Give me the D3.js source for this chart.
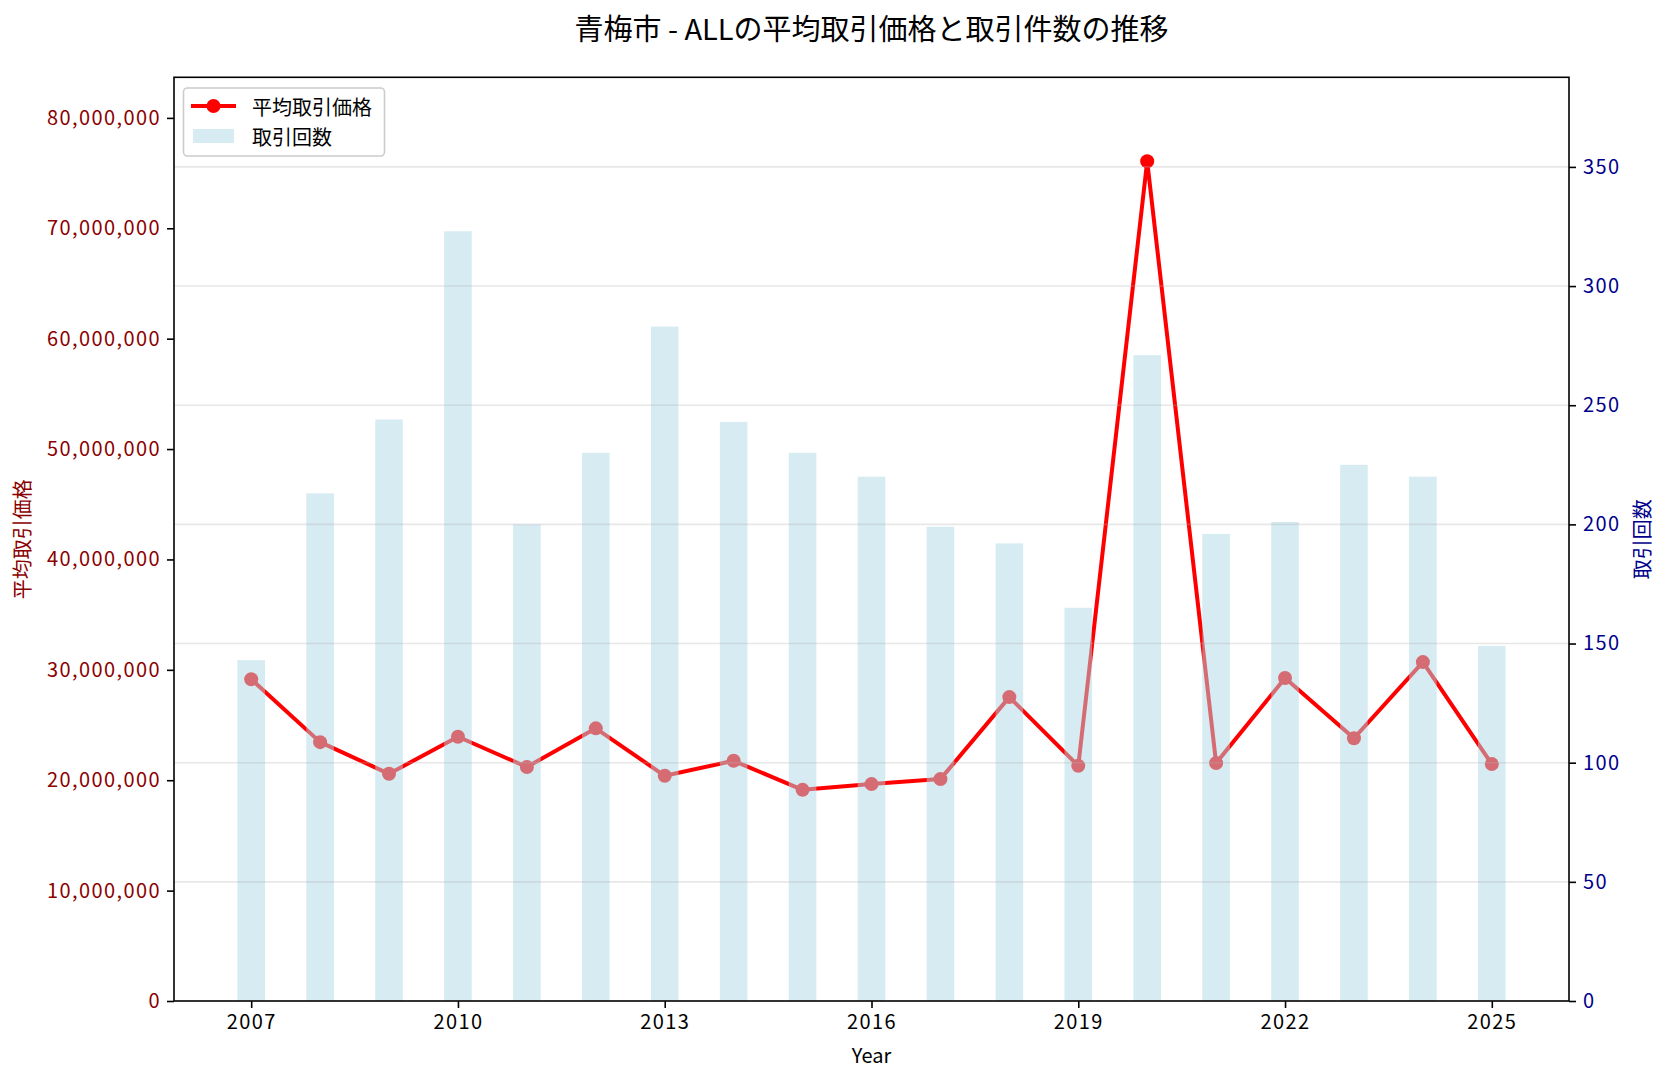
<!DOCTYPE html>
<html>
<head>
<meta charset="utf-8">
<title>青梅市 - ALLの平均取引価格と取引件数の推移</title>
<script src="https://cdn.jsdelivr.net/npm/d3@7"></script>
<style>
  body { margin: 0; background: #fff; }
  text { font-family: "Noto Sans CJK JP", "Noto Sans", sans-serif; }
</style>
</head>
<body>
<script>
// data
var years = [2007, 2008, 2009, 2010, 2011, 2012, 2013, 2014, 2015, 2016, 2017, 2018, 2019, 2020, 2021, 2022, 2023, 2024, 2025];
var avgPrice = [29150000, 23450000, 20580000, 23940000, 21200000, 24700000, 20400000, 21760000, 19130000, 19650000, 20100000, 27530000, 21300000, 76070000, 21550000, 29260000, 23800000, 30700000, 21460000];
var counts = [143, 213, 244, 323, 200, 230, 283, 243, 230, 220, 199, 192, 165, 271, 196, 201, 225, 220, 149];
var xTicks = [2007, 2010, 2013, 2016, 2019, 2022, 2025];
var priceTicks = [0, 10000000, 20000000, 30000000, 40000000, 50000000, 60000000, 70000000, 80000000];
var countTicks = [0, 50, 100, 150, 200, 250, 300, 350];

var W = 1666, H = 1080;
var pL = 174, pR = 1569, pT = 77.3, pB = 1001;
var barW = 0.4;

var svg = d3.select("body").append("svg")
    .attr("width", W)
    .attr("height", H);

var span = d3.max(years) - d3.min(years) + barW;
var x = d3.scaleLinear()
    .domain([d3.min(years) - barW / 2 - span * 0.05, d3.max(years) + barW / 2 + span * 0.05])
    .range([pL, pR]);
var yL = d3.scaleLinear().domain([0, d3.max(avgPrice) * 1.1]).range([pB, pT]);
var yR = d3.scaleLinear().domain([0, d3.max(counts) * 1.2]).range([pB, pT]);

// price line (first axes, drawn below bars)
var line = d3.line()
    .x(function(d, i) { return x(years[i]); })
    .y(function(d) { return yL(d); });

svg.append("path")
    .datum(avgPrice)
    .attr("d", line)
    .attr("fill", "none")
    .attr("stroke", "red")
    .attr("stroke-width", 4)
    .attr("stroke-linejoin", "round");

svg.selectAll("circle.pt")
    .data(avgPrice)
    .enter()
  .append("circle")
    .attr("class", "pt")
    .attr("cx", function(d, i) { return x(years[i]); })
    .attr("cy", function(d) { return yL(d); })
    .attr("r", 7)
    .attr("fill", "red");

// bars (twin axes, on top)
svg.selectAll("rect.bar")
    .data(counts)
    .enter()
  .append("rect")
    .attr("class", "bar")
    .attr("x", function(d, i) { return x(years[i] - barW / 2); })
    .attr("width", function(d, i) { return x(years[i] + barW / 2) - x(years[i] - barW / 2); })
    .attr("y", function(d) { return yR(d); })
    .attr("height", function(d) { return pB - yR(d); })
    .attr("fill", "lightblue")
    .attr("fill-opacity", 0.5);

// grid from the right axis
svg.append("g")
    .selectAll("line")
    .data(countTicks.slice(1))
    .enter()
  .append("line")
    .attr("x1", pL)
    .attr("x2", pR)
    .attr("y1", function(d) { return yR(d); })
    .attr("y2", function(d) { return yR(d); })
    .attr("stroke", "#b0b0b0")
    .attr("stroke-opacity", 0.3)
    .attr("stroke-width", 1.6);

// axes
function styleAxis(g, color) {
  g.select(".domain").remove();
  g.selectAll(".tick line").attr("stroke", "#000").attr("stroke-width", 1.6);
  g.selectAll(".tick text")
      .attr("fill", color)
      .style("font-size", "20px")
      .style("letter-spacing", "1.4px")
      .style("font-family", '"Noto Sans CJK JP", "Noto Sans", sans-serif');
}

svg.append("g")
    .attr("transform", "translate(" + pL + ",0)")
    .call(d3.axisLeft(yL).tickValues(priceTicks).tickFormat(d3.format(",")).tickSize(7).tickPadding(6))
    .call(styleAxis, "#8b0000");

svg.append("g")
    .attr("transform", "translate(" + pR + ",0)")
    .call(d3.axisRight(yR).tickValues(countTicks).tickSize(7).tickPadding(7))
    .call(styleAxis, "#00008b");

svg.append("g")
    .attr("transform", "translate(0," + pB + ")")
    .call(d3.axisBottom(x).tickValues(xTicks).tickFormat(d3.format("d")).tickSize(7).tickPadding(7))
    .call(styleAxis, "#000");

// frame
svg.append("rect")
    .attr("x", pL)
    .attr("y", pT)
    .attr("width", pR - pL)
    .attr("height", pB - pT)
    .attr("fill", "none")
    .attr("stroke", "#000")
    .attr("stroke-width", 1.6);

// labels
svg.append("text")
    .attr("x", (pL + pR) / 2)
    .attr("y", 27)
    .attr("text-anchor", "middle")
    .attr("dominant-baseline", "central")
    .style("font-size", "29px")
    .text("青梅市 - ALLの平均取引価格と取引件数の推移");

svg.append("text")
    .attr("x", (pL + pR) / 2)
    .attr("y", 1054)
    .attr("text-anchor", "middle")
    .attr("dominant-baseline", "central")
    .style("font-size", "20px")
    .text("Year");

svg.append("text")
    .attr("transform", "translate(21," + (pT + pB) / 2 + ") rotate(-90)")
    .attr("text-anchor", "middle")
    .attr("dominant-baseline", "central")
    .attr("fill", "#8b0000")
    .style("font-size", "20px")
    .text("平均取引価格");

svg.append("text")
    .attr("transform", "translate(1641," + (pT + pB) / 2 + ") rotate(-90)")
    .attr("text-anchor", "middle")
    .attr("dominant-baseline", "central")
    .attr("fill", "#00008b")
    .style("font-size", "20px")
    .text("取引回数");

// legend
var lg = svg.append("g");
lg.append("rect")
    .attr("x", 183.5).attr("y", 88)
    .attr("width", 201).attr("height", 68)
    .attr("rx", 4)
    .attr("fill", "#fff").attr("fill-opacity", 0.8)
    .attr("stroke", "#cccccc").attr("stroke-width", 1.6);
lg.append("line")
    .attr("x1", 191).attr("x2", 236)
    .attr("y1", 106).attr("y2", 106)
    .attr("stroke", "red").attr("stroke-width", 4);
lg.append("circle")
    .attr("cx", 213.5).attr("cy", 106).attr("r", 7)
    .attr("fill", "red");
lg.append("rect")
    .attr("x", 193).attr("y", 129)
    .attr("width", 41).attr("height", 14)
    .attr("fill", "lightblue").attr("fill-opacity", 0.5);
lg.append("text")
    .attr("x", 252).attr("y", 106)
    .attr("dominant-baseline", "central")
    .style("font-size", "20px")
    .text("平均取引価格");
lg.append("text")
    .attr("x", 252).attr("y", 136)
    .attr("dominant-baseline", "central")
    .style("font-size", "20px")
    .text("取引回数");
</script>
</body>
</html>
